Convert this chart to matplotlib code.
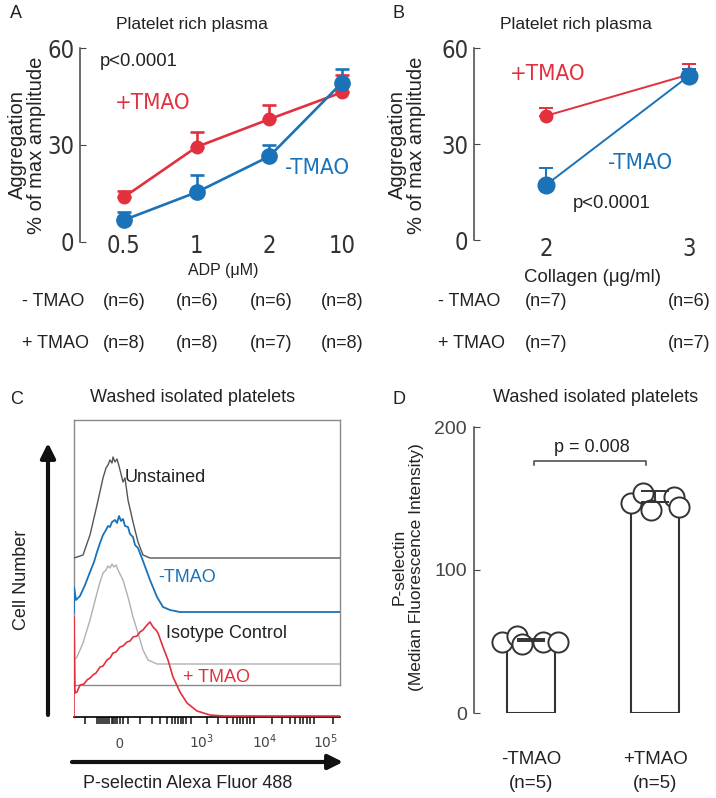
import matplotlib
matplotlib.use('Agg')
import matplotlib.pyplot as plt
import matplotlib.font_manager as fm
import matplotlib.transforms as mtrans

# fonts: Arial-like text, condensed digits on panels A/B if a narrow face exists
plt.rcParams['font.family'] = ['Liberation Sans', 'DejaVu Sans']
narrow_file = None
for key in ['LiberationSansNarrow-Regular', 'DejaVuSansCondensed.', 'Condensed-Regular', 'Narrow-Regular']:
    hits = [f.fname for f in fm.fontManager.ttflist if key in f.fname]
    if hits:
        narrow_file = hits[0]
        break


def narrow(size):
    if narrow_file:
        return fm.FontProperties(fname=narrow_file, size=size)
    return fm.FontProperties(family='Liberation Sans', size=size * 0.86)


RED = '#e2303e'
BLUE = '#1a72b8'
DARK = '#333333'

# ---- data ----
# A: ADP
adp_labels = ['0.5', '1', '2', '10']
adp_plus = [13.9, 29.4, 38.0, 46.3]
adp_plus_err = [2.0, 4.6, 4.4, 5.5]
adp_minus = [6.8, 15.4, 26.5, 49.3]
adp_minus_err = [2.5, 5.3, 3.5, 4.3]
adp_n_minus = [6, 6, 6, 8]
adp_n_plus = [8, 8, 7, 8]

# B: collagen
col_labels = ['2', '3']
col_plus = [38.8, 51.7]
col_plus_err = [2.6, 3.2]
col_minus = [17.2, 51.3]
col_minus_err = [5.2, 2.2]
col_n_minus = [7, 6]
col_n_plus = [7, 7]

# C: flow cytometry histograms (channel, relative count incl. offset)
unstained_x = [0, 9, 16, 23, 29, 32, 34, 36, 38, 39, 41, 43, 45, 46, 49, 51, 54, 59, 64, 69, 76, 266]
unstained_y = [159, 162, 182, 212, 239, 249, 252, 257, 254, 260, 255, 258, 251, 247, 235, 239, 217, 195, 175, 162, 159, 159]
minus_x = [0, 0, 2, 6, 11, 16, 20, 23, 26, 29, 32, 34, 36, 38, 41, 43, 45, 47, 49, 51, 54, 56, 59, 61, 64, 69, 76, 83, 89, 96, 106, 266]
minus_y = [105, 130, 117, 121, 132, 145, 155, 165, 174, 182, 187, 191, 190, 195, 197, 194, 201, 196, 198, 191, 190, 183, 180, 172, 169, 156, 137, 120, 110, 107, 105, 105]
iso_x = [0, 3, 9, 16, 23, 26, 29, 32, 34, 36, 38, 40, 42, 44, 46, 49, 54, 59, 64, 69, 74, 83, 266]
iso_y = [57, 60, 74, 97, 124, 135, 144, 147, 151, 149, 153, 150, 152, 147, 143, 137, 120, 100, 84, 67, 57, 53, 53]
plus_x = [0, 0, 1, 3, 6, 10, 13, 16, 19, 22, 26, 29, 33, 36, 39, 42, 46, 49, 53, 56, 59, 63, 66, 69, 73, 76, 79, 82, 84, 89, 94, 99, 106, 113, 123, 136, 149, 266]
plus_y = [0, 100, 24, 25, 32, 33, 37, 39, 42, 44, 50, 51, 57, 59, 64, 65, 70, 71, 75, 76, 80, 81, 85, 87, 92, 95, 90, 87, 84, 70, 57, 40, 25, 14, 6, 2, 1, 1]
flow_minor = [11, 23, 25, 27, 29, 31, 33, 35, 38, 39, 41, 43, 46, 49, 54, 66, 78, 86, 93, 98, 101, 104, 107, 109,
              112, 117, 133, 144, 153, 159, 163, 166, 169, 173, 176, 180, 198, 208, 216, 221, 226, 229, 233, 236, 240, 259]
flow_label_pos = [45, 128, 191, 252]
flow_labels = ['0', '$10^3$', '$10^4$', '$10^5$']

# D: P-selectin MFI
d_groups = ['-TMAO', '+TMAO']
d_n = [5, 5]
d_minus_pts = [49.7, 53.8, 48.3, 49.7, 49.7]
d_plus_pts = [146.9, 153.8, 142.0, 151.0, 144.0]
d_jitter_minus = [-0.23, -0.11, -0.07, 0.10, 0.22]
d_jitter_plus = [-0.19, -0.10, -0.03, 0.15, 0.19]
d_err = [1.5, 7.5]

W, H = 716, 798
fig = plt.figure(figsize=(W / 100, H / 100), dpi=100)


def rect(l, t, r, b):
    return [l / W, 1 - b / H, (r - l) / W, (b - t) / H]


def style_left(ax, color='#444444'):
    for s in ['top', 'right', 'bottom']:
        ax.spines[s].set_visible(False)
    ax.spines['left'].set_color(color)
    ax.spines['left'].set_linewidth(1.1)
    ax.tick_params(axis='y', direction='in', length=4, color=color)
    ax.tick_params(axis='x', length=0)


def line_panel(ax, x_labels, plus, plus_err, minus, minus_err, lw, ms_r, ms_b):
    xs = list(range(len(x_labels)))
    ax.errorbar(xs, plus, yerr=[[0] * len(plus), plus_err], color=RED, lw=lw, marker='o', ms=ms_r,
                capsize=5, elinewidth=lw, capthick=lw, clip_on=False, zorder=3)
    ax.errorbar(xs, minus, yerr=[[0] * len(minus), minus_err], color=BLUE, lw=lw, marker='o', ms=ms_b,
                capsize=5, elinewidth=lw, capthick=lw, clip_on=False, zorder=4)
    ax.set_ylim(0, 60)
    ax.set_yticks([0, 30, 60])
    ax.set_xticks(xs)
    ax.set_xticklabels(x_labels)
    for lab in ax.get_yticklabels() + ax.get_xticklabels():
        lab.set_fontproperties(narrow(17))
        lab.set_color('#333333')
    ax.tick_params(axis='y', pad=4)
    style_left(ax)


# ---- panel A ----
axA = fig.add_axes(rect(80, 48, 358, 242))
line_panel(axA, adp_labels, adp_plus, adp_plus_err, adp_minus, adp_minus_err, 1.9, 9, 11)
axA.set_xlim((80 - 124) / 72.7, (358 - 124) / 72.7)
axA.tick_params(axis='x', pad=-6)

# ---- panel B ----
axB = fig.add_axes(rect(474, 48, 712, 240))
line_panel(axB, col_labels, col_plus, col_plus_err, col_minus, col_minus_err, 1.4, 9, 12)
axB.set_xlim((474 - 546) / 143, (712 - 546) / 143)
axB.tick_params(axis='x', pad=-2)

# ---- panel C ----
axCf = fig.add_axes(rect(74, 420, 340, 685))
axCf.set_xticks([])
axCf.set_yticks([])
for s in axCf.spines.values():
    s.set_color('#8a8a8a')
    s.set_linewidth(1.0)

axC = fig.add_axes(rect(74, 420, 340, 717))
axC.patch.set_alpha(0)
axC.plot(unstained_x, unstained_y, color='#555555', lw=1.0)
axC.plot(minus_x, minus_y, color=BLUE, lw=1.3)
axC.plot(iso_x, iso_y, color='#b0b0b0', lw=1.0)
axC.plot(plus_x, plus_y, color=RED, lw=1.2, zorder=5)
axC.set_xlim(0, 266)
axC.set_ylim(0, 297)
for s in ['top', 'right', 'left']:
    axC.spines[s].set_visible(False)
axC.spines['bottom'].set_linewidth(1.2)
axC.set_yticks([])
axC.set_xticks(flow_minor, minor=True)
axC.set_xticks([])
axC.tick_params(axis='x', which='minor', direction='out', length=5, width=1.2, color='#222222')
tr = mtrans.blended_transform_factory(axC.transData, fig.transFigure)
for xp, lab in zip(flow_label_pos, flow_labels):
    axC.text(xp, 1 - 748 / H, lab, transform=tr, ha='center', va='baseline', fontsize=10, color='#444444')

# ---- panel D ----
d_means = [sum(d_minus_pts) / len(d_minus_pts), sum(d_plus_pts) / len(d_plus_pts)]
axD = fig.add_axes(rect(474, 427, 712, 713))
axD.bar([0, 1], d_means, width=0.39, color='white', edgecolor=DARK, lw=1.5, zorder=2)
axD.plot(d_jitter_minus, d_minus_pts, 'o', ms=14.5, mfc='white', mec=DARK, mew=1.4,
         zorder=3, clip_on=False)
axD.plot([1 + j for j in d_jitter_plus], d_plus_pts, 'o', ms=14.5, mfc='white', mec=DARK, mew=1.4,
         zorder=3, clip_on=False)
axD.errorbar([0, 1], d_means, yerr=[[0, 0], d_err], fmt='none',
             ecolor=DARK, elinewidth=1.4, capsize=10, capthick=1.4, zorder=4)
axD.set_xlim((474 - 531) / 124, (712 - 531) / 124)
axD.set_ylim(0, 200)
axD.set_yticks([0, 100, 200])
axD.set_xticks([0, 1])
axD.set_xticklabels(d_groups, fontsize=13.5, color='#222222')
style_left(axD)
axD.tick_params(axis='y', labelsize=14, labelcolor='#444444', pad=5)
axD.tick_params(axis='x', pad=27)
trD = mtrans.blended_transform_factory(axD.transData, fig.transFigure)
for i, n in enumerate(d_n):
    axD.text(i, 1 - 784 / H, f'(n={n})', transform=trD, ha='center', va='center', fontsize=13.5, color='#222222')

# ---- overlay for annotations (pixel coordinates) ----
ov = fig.add_axes([0, 0, 1, 1])
ov.set_xlim(0, W)
ov.set_ylim(H, 0)
ov.axis('off')
ov.patch.set_alpha(0)

txt = dict(color='#222222', va='center')
for x, y, s in [(10, 13, 'A'), (392, 13, 'B'), (10, 400, 'C'), (393, 400, 'D')]:
    ov.text(x, y, s, fontsize=13, ha='left', **txt)
ov.text(192, 25, 'Platelet rich plasma', fontsize=12.5, ha='center', **txt)
ov.text(576, 25, 'Platelet rich plasma', fontsize=12.5, ha='center', **txt)
ov.text(193, 397, 'Washed isolated platelets', fontsize=13, ha='center', **txt)
ov.text(596, 397, 'Washed isolated platelets', fontsize=13, ha='center', **txt)

ov.text(27, 145, 'Aggregation\n% of max amplitude', fontsize=14.5, rotation=90, ha='center',
        linespacing=1.05, multialignment='center', **txt)
ov.text(407, 145, 'Aggregation\n% of max amplitude', fontsize=14.5, rotation=90, ha='center',
        linespacing=1.05, multialignment='center', **txt)
ov.text(223, 270, 'ADP (μM)', fontsize=11.5, ha='center', **txt)
ov.text(593, 277, 'Collagen (μg/ml)', fontsize=13.4, ha='center', **txt)

# in-plot labels A/B
ov.text(100, 62, 'p<0.0001', fontsize=13.3, ha='left', **txt)
ov.text(573, 204, 'p<0.0001', fontsize=13.3, ha='left', **txt)
for x, y, s, c in [(115, 103, '+TMAO', RED), (285, 168, '-TMAO', BLUE),
                   (510, 74, '+TMAO', RED), (608, 163, '-TMAO', BLUE)]:
    ov.text(x, y, s, fontproperties=narrow(16), ha='left', va='center', color=c)

# n rows
adp_px = [124, 197, 271, 342]
col_px = [546, 689]
ov.text(22, 301, '- TMAO', fontsize=13, ha='left', **txt)
ov.text(22, 344, '+ TMAO', fontsize=13, ha='left', **txt)
ov.text(438, 301, '- TMAO', fontsize=13, ha='left', **txt)
ov.text(438, 344, '+ TMAO', fontsize=13, ha='left', **txt)
for px, nm, npl in zip(adp_px, adp_n_minus, adp_n_plus):
    ov.text(px, 301, f'(n={nm})', fontsize=13, ha='center', **txt)
    ov.text(px, 344, f'(n={npl})', fontsize=13, ha='center', **txt)
for px, nm, npl in zip(col_px, col_n_minus, col_n_plus):
    ov.text(px, 301, f'(n={nm})', fontsize=13, ha='center', **txt)
    ov.text(px, 344, f'(n={npl})', fontsize=13, ha='center', **txt)

# panel C labels and arrows
ov.text(125, 477, 'Unstained', fontsize=13, ha='left', **txt)
ov.text(158, 578, '-TMAO', fontsize=13, ha='left', color=BLUE, va='center')
ov.text(166, 633, 'Isotype Control', fontsize=13, ha='left', **txt)
ov.text(183, 677, '+ TMAO', fontsize=13, ha='left', color=RED, va='center')
ov.text(22, 580, 'Cell Number', fontsize=13, rotation=90, ha='center', **txt)
ov.text(188, 783, 'P-selectin Alexa Fluor 488', fontsize=13, ha='center', **txt)
ov.annotate('', xy=(48, 443), xytext=(48, 715),
            arrowprops=dict(arrowstyle='-|>', lw=3, color='#111111', mutation_scale=22, shrinkA=0, shrinkB=0))
ov.annotate('', xy=(343, 762), xytext=(72, 762),
            arrowprops=dict(arrowstyle='-|>', lw=3, color='#111111', mutation_scale=22, shrinkA=0, shrinkB=0))

# panel D labels
ov.text(408, 567, 'P-selectin\n(Median Fluorescence Intensity)', fontsize=12.5, rotation=90, ha='center',
        linespacing=1.2, multialignment='center', **txt)
ov.plot([534, 534, 646, 646], [465, 461, 461, 465], color='#444444', lw=1.1)
ov.text(592, 447, 'p = 0.008', fontsize=13, ha='center', **txt)

fig.savefig('out.png', dpi=100)
